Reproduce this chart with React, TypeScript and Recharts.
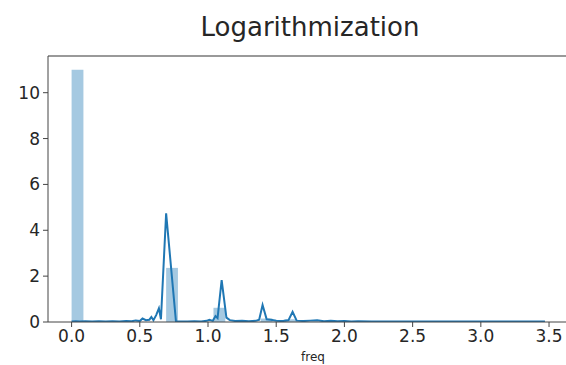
import React from "react";
import { ComposedChart, Line, XAxis, YAxis, ReferenceArea, ReferenceLine } from "recharts";

// histogram (density) bins of log(freq)
const binWidth = 0.0866;
const binStarts = [0.0, 0.693, 1.04, 1.386, 1.56];
const binDensity = [11.0, 2.36, 0.62, 0.15, 0.12];

// kde curve
const kdeX = [
  0.0, 0.03, 0.06, 0.1, 0.15, 0.2, 0.25, 0.3, 0.35, 0.4, 0.44, 0.47, 0.5, 0.52, 0.545, 0.57, 0.585, 0.6,
  0.62, 0.64, 0.655, 0.693, 0.765, 0.8, 0.85, 0.9, 0.95, 0.99, 1.01, 1.035, 1.055, 1.07, 1.1, 1.135, 1.16,
  1.2, 1.25, 1.3, 1.35, 1.375, 1.4, 1.43, 1.46, 1.5, 1.55, 1.59, 1.62, 1.65, 1.7, 1.75, 1.8, 1.85, 1.9,
  1.95, 2.0, 2.05, 2.1, 2.2, 2.3, 2.5, 2.7, 2.9, 3.1, 3.3, 3.47,
];
const kdeY = [
  0.02, 0.03, 0.02, 0.03, 0.02, 0.03, 0.02, 0.03, 0.02, 0.04, 0.03, 0.07, 0.04, 0.15, 0.08, 0.1, 0.22, 0.08,
  0.3, 0.6, 0.12, 4.74, 0.03, 0.02, 0.02, 0.03, 0.02, 0.05, 0.1, 0.05, 0.26, 0.17, 1.83, 0.19, 0.08,
  0.04, 0.05, 0.03, 0.05, 0.1, 0.74, 0.12, 0.1, 0.05, 0.04, 0.08, 0.44, 0.06, 0.04, 0.06, 0.08, 0.03, 0.05,
  0.03, 0.04, 0.02, 0.03, 0.02, 0.02, 0.02, 0.02, 0.02, 0.02, 0.02, 0.02,
];

const xTicks = [0, 0.5, 1.0, 1.5, 2.0, 2.5, 3.0, 3.5];
const yTicks = [0, 2, 4, 6, 8, 10];

const blue = "#1f77b4";
const font = "DejaVu Sans";

const App: React.FC = () => {
  const data = kdeX.map((x, i) => ({ x, density: kdeY[i] }));

  return (
    <div
      style={{
        position: "absolute",
        left: 0,
        top: 0,
        width: 566,
        height: 365,
        overflow: "hidden",
        background: "#fff",
        fontFamily: font,
      }}
    >
      <div
        style={{
          position: "absolute",
          left: 110,
          width: 400,
          top: 14,
          textAlign: "center",
          fontSize: 26,
          lineHeight: 1,
          color: "#262626",
        }}
      >
        Logarithmization
      </div>
      <ComposedChart
        width={600}
        height={365}
        data={data}
        margin={{ top: 56, right: 32, bottom: 0, left: 0 }}
        style={{ position: "absolute", left: 0, top: 0 }}
      >
        <XAxis
          dataKey="x"
          type="number"
          domain={[-0.173, 3.639]}
          allowDataOverflow
          ticks={xTicks}
          tickFormatter={(v: number) => v.toFixed(1)}
          height={43}
          tickSize={5}
          tickMargin={3}
          stroke="#444"
          tick={{ fill: "#262626", fontSize: 17, fontFamily: font }}
        />
        <YAxis
          type="number"
          domain={[0, 11.6]}
          allowDataOverflow
          ticks={yTicks}
          width={48}
          tickSize={5}
          tickMargin={3}
          stroke="#444"
          tick={{ fill: "#262626", fontSize: 17, fontFamily: font }}
        />
        <ReferenceLine y={11.6} stroke="#777" strokeWidth={1.5} />
        {binStarts.map((b, i) => (
          <ReferenceArea
            key={i}
            x1={b}
            x2={b + binWidth}
            y1={0}
            y2={binDensity[i]}
            fill={blue}
            fillOpacity={0.4}
            stroke="none"
          />
        ))}
        <Line
          dataKey="density"
          type="linear"
          stroke={blue}
          strokeWidth={2}
          dot={false}
          isAnimationActive={false}
        />
      </ComposedChart>
      <div
        style={{
          position: "absolute",
          left: 263,
          width: 100,
          top: 351,
          textAlign: "center",
          fontSize: 12,
          lineHeight: 1,
          color: "#262626",
        }}
      >
        freq
      </div>
    </div>
  );
};

export default App;
